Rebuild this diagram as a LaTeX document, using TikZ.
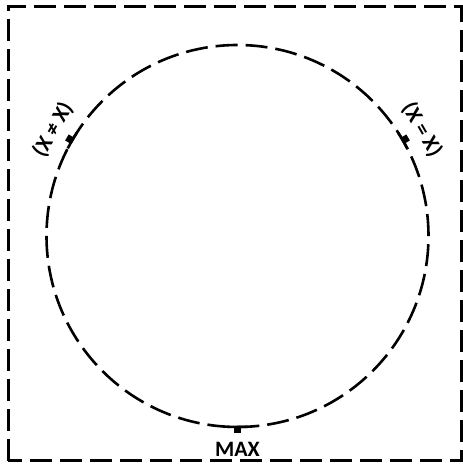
\documentclass[tikz,border=0pt]{standalone}
\usepackage{fontspec}
\setmainfont{Carlito}
\usetikzlibrary{calc}

\begin{document}
\begin{tikzpicture}[x=1pt,y=1pt,
  every node/.style={font=\bfseries\fontsize{22}{22}\selectfont,inner sep=0pt},
  frame/.style={line width=3pt,dash pattern=on 22pt off 8pt},
  ring/.style={circle,draw,line width=2.6pt,dash pattern=on 22pt off 8pt,minimum size=382pt}
]
  \useasboundingbox (0,0) rectangle (463,464);
  \draw[frame] (8,3) rectangle (461,457);
  \node[ring] (ring) at (237.5,228) {};

  \foreach \a/\n/\r/\t in {150/neq/60/{(X ≠ X)},30/eq/-60/{(X = X)},270/max/0/MAX}{
    \draw[line width=2.6pt] ($(ring.center)+(\a-2.7:191)$) arc[start angle=\a-2.7,end angle=\a+2.7,radius=191];
    \draw[line width=7pt] ($(ring.center)+(\a:191)$) -- ($(ring.center)+(\a:197)$);
    \node[rotate=\r] (lbl-\n) at ($(ring.center)+(\a:213)$) {\t};
  }
\end{tikzpicture}
\end{document}
